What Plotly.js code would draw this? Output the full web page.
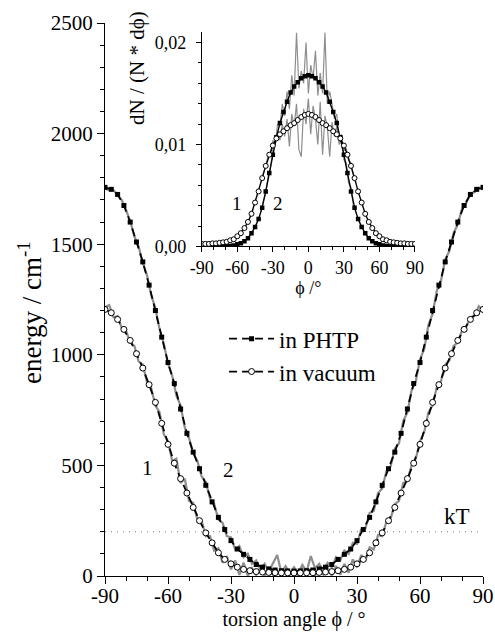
<!DOCTYPE html>
<html><head><meta charset="utf-8">
<script src="https://cdn.plot.ly/plotly-3.0.1.min.js"></script>
<style>html,body{margin:0;padding:0;background:#fff}#chart{width:495px;height:640px}</style>
</head><body><div id="chart"></div>
<script>
// ---- data ----
const angles3 = [-90,-87,-84,-81,-78,-75,-72,-69,-66,-63,-60,-57,-54,-51,-48,-45,-42,-39,-36,-33,-30,-27,-24,-21,-18,-15,-12,-9,-6,-3,0,3,6,9,12,15,18,21,24,27,30,33,36,39,42,45,48,51,54,57,60,63,66,69,72,75,78,81,84,87,90];
const energyPHTP = [1757,1748,1725,1675,1600,1510,1420,1315,1200,1080,965,870,755,645,560,485,410,335,265,210,160,122,98,75,52,40,32,27,24,23,22,23,24,27,32,40,52,75,98,122,160,210,265,335,410,485,560,645,755,870,965,1080,1200,1315,1420,1510,1600,1675,1725,1748,1757];
const energyVac = [1205,1190,1160,1115,1065,1005,940,865,785,690,595,510,440,375,310,250,195,150,105,75,55,40,30,24,20,18,16,15,14,14,14,14,14,15,16,18,20,24,30,40,55,75,105,150,195,250,310,375,440,510,595,690,785,865,940,1005,1065,1115,1160,1190,1205];
const distPHTP = [0,0,0,0,0,0,0,0.00002,0.00005,0.0001,0.0002,0.0003,0.0005,0.0008,0.0013,0.0019,0.0027,0.0038,0.0054,0.0072,0.0090,0.0107,0.0121,0.0132,0.0142,0.0151,0.0157,0.0161,0.0165,0.0167,0.0168,0.0167,0.0165,0.0161,0.0157,0.0151,0.0142,0.0132,0.0121,0.0107,0.0090,0.0072,0.0054,0.0038,0.0027,0.0019,0.0013,0.0008,0.0005,0.0003,0.0002,0.0001,0.00005,0.00002,0,0,0,0,0,0,0];
const distVac = [0.00025,0.00025,0.00025,0.0003,0.0003,0.00035,0.0004,0.00045,0.0006,0.0007,0.0010,0.0013,0.0018,0.0024,0.0032,0.0043,0.0054,0.0067,0.0079,0.0090,0.0099,0.0106,0.0110,0.0113,0.0116,0.0119,0.0121,0.0124,0.0127,0.0129,0.0130,0.0129,0.0127,0.0124,0.0121,0.0119,0.0116,0.0113,0.0110,0.0106,0.0099,0.0090,0.0079,0.0067,0.0054,0.0043,0.0032,0.0024,0.0018,0.0013,0.0010,0.0007,0.0006,0.00045,0.0004,0.00035,0.0003,0.0003,0.00025,0.00025,0.00025];

const angles2 = [-90,-88,-86,-84,-82,-80,-78,-76,-74,-72,-70,-68,-66,-64,-62,-60,-58,-56,-54,-52,-50,-48,-46,-44,-42,-40,-38,-36,-34,-32,-30,-28,-26,-24,-22,-20,-18,-16,-14,-12,-10,-8,-6,-4,-2,0,2,4,6,8,10,12,14,16,18,20,22,24,26,28,30,32,34,36,38,40,42,44,46,48,50,52,54,56,58,60,62,64,66,68,70,72,74,76,78,80,82,84,86,88,90];
const greyPHTP = [1750,1745,1745,1720,1700,1655,1605,1535,1490,1415,1360,1270,1210,1115,1050,960,905,815,770,670,625,555,520,450,425,350,325,255,240,180,175,120,135,85,100,55,70,30,55,20,60,95,15,45,10,40,15,50,20,90,35,55,25,60,40,85,70,115,100,150,145,210,215,285,295,375,395,475,495,575,600,700,740,840,880,980,1025,1135,1185,1290,1335,1430,1470,1550,1590,1660,1685,1730,1735,1755,1750];
const greyVac = [1215,1225,1170,1175,1120,1110,1055,1040,970,955,875,850,770,740,640,610,520,530,420,440,340,330,255,250,180,180,115,125,60,90,30,70,5,60,0,35,5,40,0,30,5,25,0,30,5,25,0,35,5,30,0,35,5,40,0,45,5,55,15,75,40,95,70,130,120,185,180,245,260,325,340,420,430,500,530,610,650,740,770,855,880,955,975,1040,1055,1110,1125,1170,1175,1220,1200];

const anglesInsetGrey = [-40,-38,-36,-34,-32,-30,-28,-26,-24,-22,-20,-18,-16,-14,-12,-10,-8,-6,-4,-2,0,2,4,6,8,10,12,14,16,18,20,22,24,26,28,30,32,34,36,38,40];
const greyDistPHTP = [0.0034,0.0045,0.0052,0.0068,0.0077,0.0095,0.0100,0.0120,0.0118,0.0140,0.0128,0.0152,0.0135,0.0168,0.0148,0.0210,0.0155,0.0172,0.0160,0.0200,0.0150,0.0178,0.0165,0.0192,0.0148,0.0170,0.0150,0.0210,0.0140,0.0152,0.0140,0.0125,0.0130,0.0105,0.0110,0.0085,0.0082,0.0062,0.0058,0.0040,0.0034];
const greyDistVac = [0.0063,0.0072,0.0078,0.0090,0.0092,0.0104,0.0100,0.0112,0.0104,0.0120,0.0108,0.0125,0.0098,0.0130,0.0118,0.0140,0.0095,0.0088,0.0135,0.0120,0.0145,0.0110,0.0138,0.0125,0.0100,0.0142,0.0090,0.0128,0.0118,0.0088,0.0122,0.0108,0.0118,0.0100,0.0108,0.0094,0.0096,0.0084,0.0082,0.0070,0.0063];

const kT = 200;
const xTickVals = [-90,-60,-30,0,30,60,90];
const xTickText = ['-90','-60','-30','0','30','60','90'];
const yTickVals = [0,500,1000,1500,2000,2500];
const yTickText = ['0','500','1000','1500','2000','2500'];
const insetYTickVals = [0,0.01,0.02];
const insetYTickText = ['0,00','0,01','0,02'];
const seriesNames = ['in PHTP','in vacuum'];

// ---- styling ----
const FONT = "'Liberation Serif', 'Times New Roman', serif";
const GREY = '#8e8e8e';
const DASH = '8px,5px';

const traces = [
  {x: angles2, y: greyPHTP, mode:'lines', line:{color:GREY, width:2.2}, showlegend:false, hoverinfo:'skip'},
  {x: angles2, y: greyVac, mode:'lines', line:{color:GREY, width:2.2}, showlegend:false, hoverinfo:'skip'},
  {x: [-90, 90], y: [kT, kT], mode:'lines', line:{color:'#777', width:1, dash:'1px,5px'}, showlegend:false, hoverinfo:'skip'},
  {x: angles3, y: energyPHTP, mode:'lines+markers', name: seriesNames[0],
   line:{color:'black', width:1.8, dash:DASH}, marker:{symbol:'square', size:5, color:'black'}},
  {x: angles3, y: energyVac, mode:'lines+markers', name: seriesNames[1],
   line:{color:'black', width:1.8, dash:DASH}, marker:{symbol:'circle', size:6, color:'white', line:{color:'black', width:1}}},
  // inset
  {x: anglesInsetGrey, y: greyDistPHTP, xaxis:'x2', yaxis:'y2', mode:'lines', line:{color:GREY, width:1.2}, showlegend:false, hoverinfo:'skip'},
  {x: anglesInsetGrey, y: greyDistVac, xaxis:'x2', yaxis:'y2', mode:'lines', line:{color:GREY, width:1.2}, showlegend:false, hoverinfo:'skip'},
  {x: angles3, y: distPHTP, xaxis:'x2', yaxis:'y2', mode:'lines+markers', showlegend:false,
   line:{color:'black', width:1.4}, marker:{symbol:'square', size:4.5, color:'black'}},
  {x: angles3, y: distVac, xaxis:'x2', yaxis:'y2', mode:'lines+markers', showlegend:false,
   line:{color:'black', width:1.4}, marker:{symbol:'circle', size:5, color:'white', line:{color:'black', width:1}}}
];

const axBase = {showgrid:false, zeroline:false, showline:true, linecolor:'black', linewidth:1, tickcolor:'black', tickwidth:1};

const layout = {
  width:495, height:640,
  margin:{l:105, r:12, t:23, b:64},
  paper_bgcolor:'white', plot_bgcolor:'white',
  font:{family:FONT, color:'black', size:20},
  showlegend:true,
  legend:{x:0.315, y:0.468, xanchor:'left', yanchor:'top', bgcolor:'rgba(0,0,0,0)', font:{family:FONT, size:23}, itemwidth:45, tracegroupgap:0},
  xaxis: Object.assign({}, axBase, {
    range:[-90,90], tickmode:'array', tickvals:xTickVals, ticktext:xTickText,
    ticks:'outside', ticklen:7, tickfont:{family:FONT, size:21}, ticklabelstandoff:-6,
    minor:{tickmode:'linear', tick0:0, dtick:10, ticks:'outside', ticklen:4, tickcolor:'black'},
    title:{text:'torsion angle ϕ / °', font:{family:FONT, size:20}, standoff:4}, automargin:false
  }),
  yaxis: Object.assign({}, axBase, {
    range:[0,2500], tickmode:'array', tickvals:yTickVals, ticktext:yTickText,
    ticks:'outside', ticklen:7, tickfont:{family:FONT, size:21},
    minor:{tickmode:'linear', tick0:0, dtick:100, ticks:'outside', ticklen:4, tickcolor:'black'},
    automargin:false
  }),
  xaxis3: Object.assign({}, axBase, {
    overlaying:'x', anchor:'y', side:'top', range:[-90,90], tickmode:'array', tickvals:xTickVals,
    ticks:'inside', ticklen:7, showticklabels:false,
    minor:{tickmode:'linear', tick0:0, dtick:10, ticks:'inside', ticklen:4, tickcolor:'black'}
  }),
  yaxis3: Object.assign({}, axBase, {
    overlaying:'y', anchor:'x', side:'right', range:[0,2500], tickmode:'array', tickvals:yTickVals,
    ticks:'inside', ticklen:7, showticklabels:false,
    minor:{tickmode:'linear', tick0:0, dtick:100, ticks:'inside', ticklen:4, tickcolor:'black'}
  }),
  xaxis2: Object.assign({}, axBase, {
    domain:[0.256, 0.820], anchor:'y2', range:[-90,90], tickmode:'array', tickvals:xTickVals, ticktext:xTickText,
    ticks:'outside', ticklen:5, tickfont:{family:FONT, size:18},
    minor:{tickmode:'linear', tick0:0, dtick:10, ticks:'outside', ticklen:3, tickcolor:'black'},
    title:{text:'ϕ /°', font:{family:FONT, size:18}, standoff:2}, automargin:false
  }),
  yaxis2: Object.assign({}, axBase, {
    domain:[0.596, 0.983], anchor:'x2', range:[0,0.021], tickmode:'array', tickvals:insetYTickVals, ticktext:insetYTickText,
    ticks:'outside', ticklen:5, tickfont:{family:FONT, size:18}, ticklabelstandoff:6,
    minor:{tickmode:'linear', tick0:0, dtick:0.002, ticks:'outside', ticklen:3, tickcolor:'black'},
    automargin:false
  }),
  xaxis4: Object.assign({}, axBase, {
    overlaying:'x2', anchor:'y2', side:'top', range:[-90,90], tickmode:'array', tickvals:xTickVals,
    ticks:'inside', ticklen:5, showticklabels:false,
    minor:{tickmode:'linear', tick0:0, dtick:10, ticks:'inside', ticklen:3, tickcolor:'black'}
  }),
  yaxis4: Object.assign({}, axBase, {
    overlaying:'y2', anchor:'x2', side:'right', range:[0,0.021], tickmode:'array', tickvals:insetYTickVals,
    ticks:'inside', ticklen:5, showticklabels:false,
    minor:{tickmode:'linear', tick0:0, dtick:0.002, ticks:'inside', ticklen:3, tickcolor:'black'}
  }),
  annotations:[
    {text:'1', x:-70, y:488, xref:'x', yref:'y', showarrow:false, font:{family:FONT, size:21}},
    {text:'2', x:-31.4, y:479, xref:'x', yref:'y', showarrow:false, font:{family:FONT, size:21}},
    {text:'kT', x:77.5, y:268, xref:'x', yref:'y', showarrow:false, font:{family:FONT, size:23}},
    {text:'1', x:-60.4, y:0.00424, xref:'x2', yref:'y2', showarrow:false, font:{family:FONT, size:19}},
    {text:'2', x:-25.8, y:0.00424, xref:'x2', yref:'y2', showarrow:false, font:{family:FONT, size:19}},
    {text:'dN / (N * dϕ)', px:137, py:68, xref:'paper', yref:'paper', xanchor:'center', yanchor:'middle', showarrow:false, textangle:-90, font:{family:FONT, size:21}},
    {text:'energy / cm<sup>-1</sup>', px:30, py:313, xref:'paper', yref:'paper', xanchor:'center', yanchor:'middle', showarrow:false, textangle:-90, font:{family:FONT, size:27}}
  ]
};
// place the two rotated titles given in pixels into paper coordinates
(function(){
  const L = layout.margin.l, W = 495 - layout.margin.l - layout.margin.r;
  const T = layout.margin.t, H = 640 - layout.margin.t - layout.margin.b;
  layout.annotations.forEach(a => {
    if (a.px !== undefined) { a.x = (a.px - L) / W; a.y = 1 - (a.py - T) / H; delete a.px; delete a.py; }
  });
})();

Plotly.newPlot('chart', traces, layout, {staticPlot:true, displayModeBar:false});
</script></body></html>
